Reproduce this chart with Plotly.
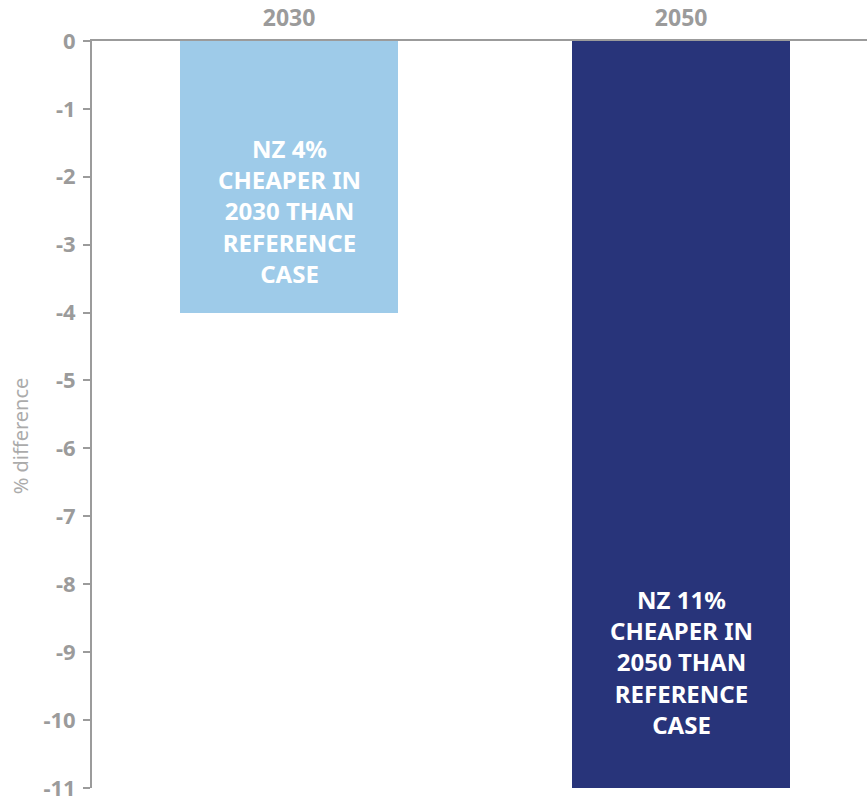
import plotly.graph_objects as go

years = ["2030", "2050"]
pct_diff = [-4, -11]
bar_colors = ["#9ECBE9", "#28347A"]
bar_notes = [
    "NZ 4%<br>CHEAPER IN<br>2030 THAN<br>REFERENCE<br>CASE",
    "NZ 11%<br>CHEAPER IN<br>2050 THAN<br>REFERENCE<br>CASE",
]
note_y = [-2.5, -9.15]
y_ticks = list(range(0, -12, -1))

grey = "#9B9B9B"
font_family = "'Noto Sans', 'Open Sans', sans-serif"

fig = go.Figure()
fig.add_trace(go.Bar(
    x=years,
    y=pct_diff,
    marker=dict(color=bar_colors, line=dict(width=0)),
    width=0.556,
    hoverinfo="skip",
))

# Notes written inside each bar
for i, (txt, ny) in enumerate(zip(bar_notes, note_y)):
    fig.add_annotation(
        x=i, y=ny, xref="x", yref="y", text=f"<b>{txt}</b>",
        showarrow=False, align="center",
        font=dict(family=font_family, size=24, color="white"),
        xanchor="center", yanchor="middle",
    )

# Rotated y-axis caption
fig.add_annotation(
    x=-0.093, y=0.472, xref="paper", yref="paper",
    text="% difference", textangle=-90, showarrow=False,
    font=dict(family=font_family, size=20, color="#ABABAB"),
    xanchor="center", yanchor="middle",
)

fig.update_layout(
    width=867, height=805,
    margin=dict(l=92, r=0, t=41, b=17),
    plot_bgcolor="white", paper_bgcolor="white",
    showlegend=False,
    bargap=0,
    xaxis=dict(
        type="category", automargin=False,
        side="top", range=[-0.5026, 1.474],
        showline=True, linecolor=grey, linewidth=2,
        ticks="", showgrid=False, zeroline=False,
        tickfont=dict(family=font_family, size=23, color=grey),
        tickprefix="<b>", ticksuffix="</b>",
        ticklabelstandoff=4,
    ),
    yaxis=dict(
        automargin=False,
        range=[-11.003, 0], tickvals=y_ticks,
        ticktext=[f"<b>{v}</b>" for v in y_ticks],
        showline=True, linecolor=grey, linewidth=2,
        ticks="outside", ticklen=7, tickwidth=2, tickcolor=grey,
        showgrid=False, zeroline=False,
        tickfont=dict(family=font_family, size=22, color=grey),
        ticklabeloverflow="allow",
        ticklabelstandoff=3,
    ),
)

fig.write_html("out.html")
